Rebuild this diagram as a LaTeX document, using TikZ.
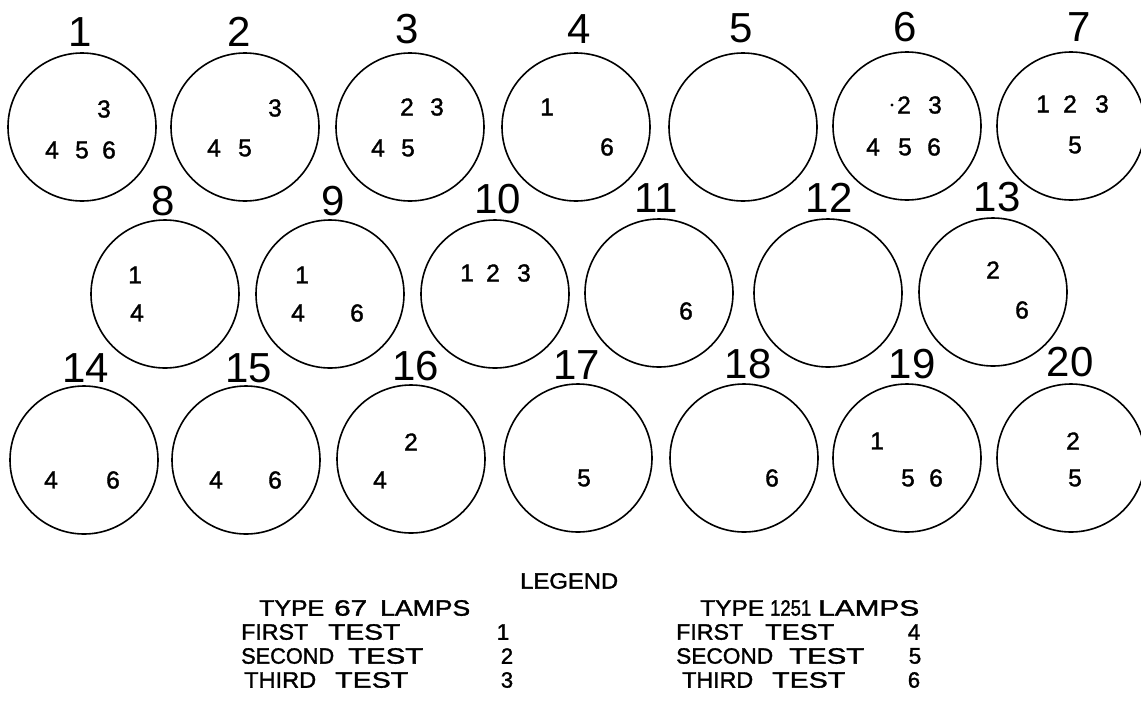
\documentclass[tikz,border=0pt]{standalone}
\usepackage{fontspec}
\usepackage{graphicx}
\setmainfont{Liberation Sans}
\newfontfamily\medfont[FakeBold=1.5]{Liberation Sans}
\begin{document}
\begin{tikzpicture}[x=1pt,y=-1pt,
  lamp/.style={draw, circle, minimum size=148pt, line width=1.6pt, inner sep=0pt},
  num/.style={font=\fontsize{42}{42}\selectfont, inner sep=0pt},
  dig/.style={font=\medfont\fontsize{24.5}{24.5}\selectfont, inner sep=0pt},
  leg/.style={font=\medfont\fontsize{21}{21}\selectfont, inner sep=0pt}]
\useasboundingbox (0,0) rectangle (1141,713);
% circles
\foreach \n/\x/\y in {1/82/127, 2/245/127, 3/410/127, 4/576/127, 5/743/127, 6/907/126, 7/1071/126,
  8/165/294, 9/330/294, 10/495/294, 11/659/293, 12/828/293, 13/993/292,
  14/84/460, 15/246/460, 16/411/459, 17/578/458, 18/744/458, 19/907/458, 20/1071/458}
  {\node[lamp] (c\n) at (\x,\y) {};}
% circle numbers
\foreach \n/\x/\y in {1/80/32, 2/239/32, 3/407/29, 4/579/29, 5/741/28, 6/905/27, 7/1079/27,
  8/163/201, 9/333/201, 10/498/199, 11/656/198, 12/829/198, 13/997/197,
  14/86/368, 15/249/368, 16/416/366, 17/577/365, 18/748/364, 19/912/364, 20/1070/362}
  {\node[num] (l\n) at (\x,\y) {\n};}
% digits inside circles
\foreach \x/\y/\t [count=\i] in {
  104/109/3, 52/150/4, 82/150/5, 109/150/6,
  275/108/3, 214/148/4, 245/148/5,
  407/107/2, 437/107/3, 378/148/4, 408/148/5,
  547/107/1, 607/147/6,
  904/105/2, 935/105/3, 873/147/4, 905/147/5, 934/147/6,
  1043/104/1, 1070/104/2, 1102/104/3, 1075/145/5,
  135/275/1, 137/313/4,
  302/275/1, 298/313/4, 357/313/6,
  467/273/1, 493/273/2, 524/273/3,
  686/311/6,
  993/270/2, 1022/310/6,
  51/480/4, 113/480/6,
  216/480/4, 275/480/6,
  411/442/2, 380/480/4,
  584/478/5,
  772/478/6,
  877/441/1, 908/478/5, 936/478/6,
  1073/441/2, 1075/478/5}
  {\node[dig] (d\i) at (\x,\y) {\t};}
\fill (892,105) circle (1.6pt);
% legend
\node[leg, anchor=west] (legend) at (520,581) {\resizebox{98pt}{15.5pt}{LEGEND}};
\foreach \l/\r/\y/\t [count=\i] in {
  259/324/608/TYPE, 334/367/608/67, 380/470/608/LAMPS,
  241/308/632/FIRST, 328/400/632/TEST,
  241/334/656/SECOND, 348/423/656/TEST,
  244/316/680/THIRD, 335/408/680/TEST,
  700/764/608/TYPE, 770/811/608/1251, 818/919/608/LAMPS,
  676/743/632/FIRST, 765/834/632/TEST,
  676/773/656/SECOND, 789/864/656/TEST,
  682/753/680/THIRD, 772/845/680/TEST}
  {\pgfmathsetmacro\w{\r-\l}
   \node[leg, anchor=west] (w\i) at (\l,\y) {\resizebox{\w pt}{15.5pt}{\t}};}
\foreach \x/\y/\t [count=\i] in {503/632/1, 507/656/2, 507/680/3, 914/632/4, 915/656/5, 914/680/6}
  {\node[leg] (v\i) at (\x,\y) {\resizebox{!}{15.5pt}{\t}};}
\end{tikzpicture}
\end{document}
